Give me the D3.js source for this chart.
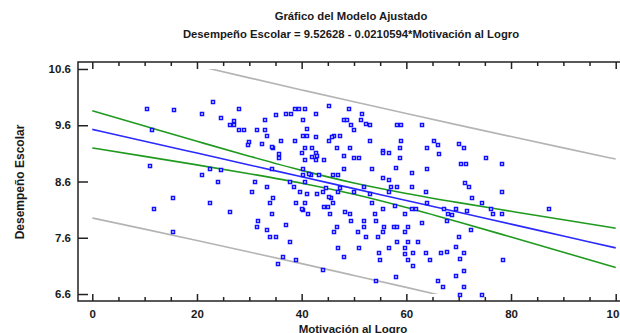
<!DOCTYPE html>
<html>
<head>
<meta charset="utf-8">
<script src="https://cdn.jsdelivr.net/npm/d3@7"></script>
<style>
  html, body { margin: 0; padding: 0; background: #fff; }
  svg { display: block; }
  text { font-family: "Liberation Sans", Arial, sans-serif; font-weight: bold; fill: #1a1a1a; }
</style>
</head>
<body>
<svg id="chart" width="620" height="333"></svg>
<script>
// ---------------- data ----------------
const titleText = "Gráfico del Modelo Ajustado";
const subtitleText = "Desempeño Escolar = 9.52628 - 0.0210594*Motivación al Logro";
const xLabel = "Motivación al Logro";
const yLabel = "Desempeño Escolar";

const xTicksMajor = [0, 20, 40, 60, 80, 100];
const xTicksMinor = [5, 10, 15, 25, 30, 35, 45, 50, 55, 65, 70, 75, 85, 90, 95];
const yTicks = [6.6, 7.6, 8.6, 9.6, 10.6];

// observations (Motivación al Logro, Desempeño Escolar)
const motivacion = [
  23.1,10.4,15.6,21.0,28.1,24.5,27.1,27.1,26.4,11.5,28.1,29.0,31.4,30.0,29.7,11.1,22.4,24.5,21.0,24.1,
  31.1,30.6,15.4,22.4,11.8,26.4,31.6,31.4,15.4,45.3,49.0,38.8,39.5,40.6,35.1,37.0,38.0,42.7,51.6,33.0,
  40.3,48.0,48.6,51.4,52.3,53.0,49.5,58.2,58.9,63.0,33.0,41.1,50.0,33.3,40.3,41.1,42.7,46.2,45.8,47.4,
  36.1,38.8,45.3,53.0,58.9,32.5,34.6,34.3,40.6,42.0,46.7,49.3,55.5,55.6,56.6,58.7,63.9,40.0,42.7,42.9,
  35.7,35.7,41.9,48.1,50.0,50.9,40.6,42.7,44.3,58.7,34.4,40.3,48.1,53.5,58.0,63.9,61.0,40.2,41.7,41.4,
  43.3,46.0,47.0,55.6,56.6,37.8,33.3,38.5,40.6,44.6,47.4,51.9,57.0,58.2,61.0,39.6,41.1,42.9,44.1,46.9,
  50.0,53.0,56.6,63.7,34.6,45.6,45.3,33.9,38.9,40.6,46.0,53.5,57.9,40.2,40.0,44.3,45.1,55.6,61.0,61.9,
  34.4,41.2,45.5,48.3,49.3,54.0,59.7,49.5,51.9,54.2,37.0,46.7,51.9,55.8,57.6,58.2,60.3,62.9,33.3,46.2,
  50.7,55.6,59.8,34.0,35.1,37.8,52.3,54.5,58.2,60.3,62.2,46.9,50.9,56.6,59.8,54.7,59.7,61.3,63.7,48.1,
  36.5,38.9,54.9,60.3,35.4,61.3,44.1,58.0,54.2,65.2,66.0,70.0,71.0,66.3,75.2,70.5,71.4,78.2,71.2,71.9,
  78.2,72.6,74.5,63.9,67.2,69.5,71.6,76.1,87.2,67.9,68.8,76.6,78.2,67.7,72.3,70.0,69.4,66.7,67.7,71.0,
  64.6,70.3,78.5,71.0,69.4,66.0,67.0,71.0,70.3,74.5
];
const desempeno = [
  10.01,9.89,9.87,9.80,9.89,9.73,9.68,9.60,9.60,9.51,9.51,9.51,9.51,9.31,9.24,8.88,8.83,8.81,8.72,8.60,
  8.60,8.41,8.31,8.21,8.12,8.05,7.90,7.80,7.71,9.94,9.89,9.89,9.89,9.89,9.78,9.80,9.80,9.80,9.80,9.70,
  9.70,9.70,9.70,9.70,9.63,9.60,9.60,9.60,9.60,9.60,9.51,9.53,9.51,9.41,9.41,9.41,9.39,9.41,9.39,9.41,
  9.32,9.32,9.32,9.32,9.32,9.27,9.20,9.21,9.20,9.20,9.20,9.20,9.15,9.11,9.11,9.20,9.20,9.11,9.11,9.06,
  9.08,9.01,9.04,9.06,9.01,9.01,8.99,8.99,8.99,9.01,8.82,8.82,8.82,8.82,8.84,8.82,8.75,8.72,8.72,8.74,
  8.72,8.72,8.72,8.67,8.63,8.60,8.50,8.50,8.60,8.48,8.48,8.50,8.50,8.50,8.50,8.41,8.38,8.38,8.41,8.41,
  8.41,8.38,8.41,8.41,8.31,8.31,8.33,8.21,8.21,8.21,8.21,8.21,8.16,8.09,8.11,8.14,8.14,8.12,8.12,8.12,
  8.02,8.02,8.02,8.05,8.02,8.02,8.02,7.90,7.90,7.90,7.83,7.80,7.80,7.80,7.80,7.80,7.80,7.87,7.73,7.71,
  7.71,7.71,7.71,7.61,7.61,7.52,7.61,7.61,7.52,7.52,7.52,7.42,7.42,7.42,7.42,7.33,7.31,7.33,7.33,7.26,
  7.26,7.21,7.21,7.21,7.14,7.09,7.02,6.91,6.83,9.32,9.24,9.27,9.20,9.08,9.01,8.91,8.91,8.91,8.57,8.50,
  8.41,8.31,8.21,8.21,8.12,8.12,8.07,8.12,8.12,8.02,8.00,8.02,8.02,7.90,7.73,7.61,7.44,7.33,7.35,7.33,
  7.21,7.23,7.21,7.01,6.92,6.83,6.73,6.73,6.59,6.59
];

// fitted line and limits, read at x = 0, 10, ..., 100
const bandX     = [0, 10, 20, 30, 40, 50, 60, 70, 80, 90, 100];
const fitY      = [9.526, 9.316, 9.105, 8.894, 8.684, 8.473, 8.263, 8.052, 7.842, 7.631, 7.420];
const confUpper = [9.856, 9.585, 9.315, 9.050, 8.798, 8.574, 8.388, 8.224, 8.071, 7.919, 7.770];
const confLower = [9.196, 9.047, 8.895, 8.738, 8.570, 8.373, 8.138, 7.880, 7.613, 7.343, 7.070];
const predUpper = [11.101, 10.879, 10.659, 10.442, 10.228, 10.016, 9.808, 9.602, 9.399, 9.198, 8.999];
const predLower = [7.951, 7.753, 7.551, 7.346, 7.140, 6.930, 6.718, 6.502, 6.285, 6.064, 5.841];

// ---------------- drawing ----------------
const svg = d3.select("#chart");
const frame = { left: 78, right: 630, top: 62, bottom: 301 };

const x = d3.scaleLinear().domain([-2.73, 102.73]).range([frame.left, frame.right]);
const y = d3.scaleLinear().domain([6.476, 10.724]).range([frame.bottom, frame.top]);

// titles
svg.append("text").attr("x", 351).attr("y", 19.5).attr("text-anchor", "middle")
  .style("font-size", "11.3px").text(titleText);
svg.append("text").attr("x", 351).attr("y", 38).attr("text-anchor", "middle")
  .style("font-size", "11.3px").text(subtitleText);

// clip for lines (to the axis value range)
svg.append("clipPath").attr("id", "clipLines").append("rect")
  .attr("x", frame.left).attr("width", frame.right - frame.left)
  .attr("y", y(10.6)).attr("height", y(6.6) - y(10.6));

const line = d3.line().x(d => x(d[0])).y(d => y(d[1])).curve(d3.curveMonotoneX);
const series = [
  { vals: predUpper, color: "#b4b4b4" },
  { vals: predLower, color: "#b4b4b4" },
  { vals: confUpper, color: "#1f9a1f" },
  { vals: confLower, color: "#1f9a1f" },
  { vals: fitY,      color: "#2a2aff" }
];
const gLines = svg.append("g").attr("clip-path", "url(#clipLines)");
series.forEach(s => {
  gLines.append("path")
    .datum(bandX.map((bx, i) => [bx, s.vals[i]]))
    .attr("d", line)
    .attr("fill", "none")
    .attr("stroke", s.color)
    .attr("stroke-width", 1.6);
});

// points
const pts = motivacion.map((m, i) => [m, desempeno[i]]);
svg.append("g").selectAll("rect").data(pts).join("rect")
  .attr("x", d => Math.round(x(d[0])) - 1.5)
  .attr("y", d => Math.round(y(d[1])) - 1.5)
  .attr("width", 3).attr("height", 3)
  .attr("fill", "#ffffff")
  .attr("stroke", "#1010ff")
  .attr("stroke-width", 1.5);

// axes
const axisColor = "#222";
function styleAxis(g) {
  g.select(".domain").remove();
  g.selectAll(".tick line").attr("stroke", axisColor).attr("stroke-width", 1.5);
  g.selectAll(".tick text").style("font-size", "11.5px").attr("fill", "#1a1a1a");
}
// bottom major with labels
svg.append("g").attr("transform", `translate(0,${frame.bottom})`)
  .call(d3.axisBottom(x).tickValues(xTicksMajor).tickSizeInner(-7).tickSizeOuter(0).tickPadding(9).tickFormat(d3.format("d")))
  .call(styleAxis);
svg.append("g").attr("transform", `translate(0,${frame.bottom})`)
  .call(d3.axisBottom(x).tickValues(xTicksMinor).tickSizeInner(-4).tickSizeOuter(0).tickFormat(""))
  .call(styleAxis);
// top
svg.append("g").attr("transform", `translate(0,${frame.top})`)
  .call(d3.axisTop(x).tickValues(xTicksMajor).tickSizeInner(-7).tickSizeOuter(0).tickFormat(""))
  .call(styleAxis);
svg.append("g").attr("transform", `translate(0,${frame.top})`)
  .call(d3.axisTop(x).tickValues(xTicksMinor).tickSizeInner(-4).tickSizeOuter(0).tickFormat(""))
  .call(styleAxis);
// left
svg.append("g").attr("transform", `translate(${frame.left},0)`)
  .call(d3.axisLeft(y).tickValues(yTicks).tickSizeInner(-10).tickSizeOuter(0).tickPadding(7).tickFormat(d3.format(".1f")))
  .call(styleAxis);
// right
svg.append("g").attr("transform", `translate(${frame.right},0)`)
  .call(d3.axisRight(y).tickValues(yTicks).tickSizeInner(-10).tickSizeOuter(0).tickFormat(""))
  .call(styleAxis);

// frame
svg.append("rect")
  .attr("x", frame.left).attr("y", frame.top)
  .attr("width", frame.right - frame.left).attr("height", frame.bottom - frame.top)
  .attr("fill", "none").attr("stroke", axisColor).attr("stroke-width", 1.5);

// axis titles
svg.append("text").attr("x", 353).attr("y", 333).attr("text-anchor", "middle")
  .style("font-size", "11.5px").text(xLabel);
svg.append("text").attr("transform", "translate(24,182) rotate(-90)").attr("text-anchor", "middle")
  .style("font-size", "12px").text(yLabel);
</script>
</body>
</html>
